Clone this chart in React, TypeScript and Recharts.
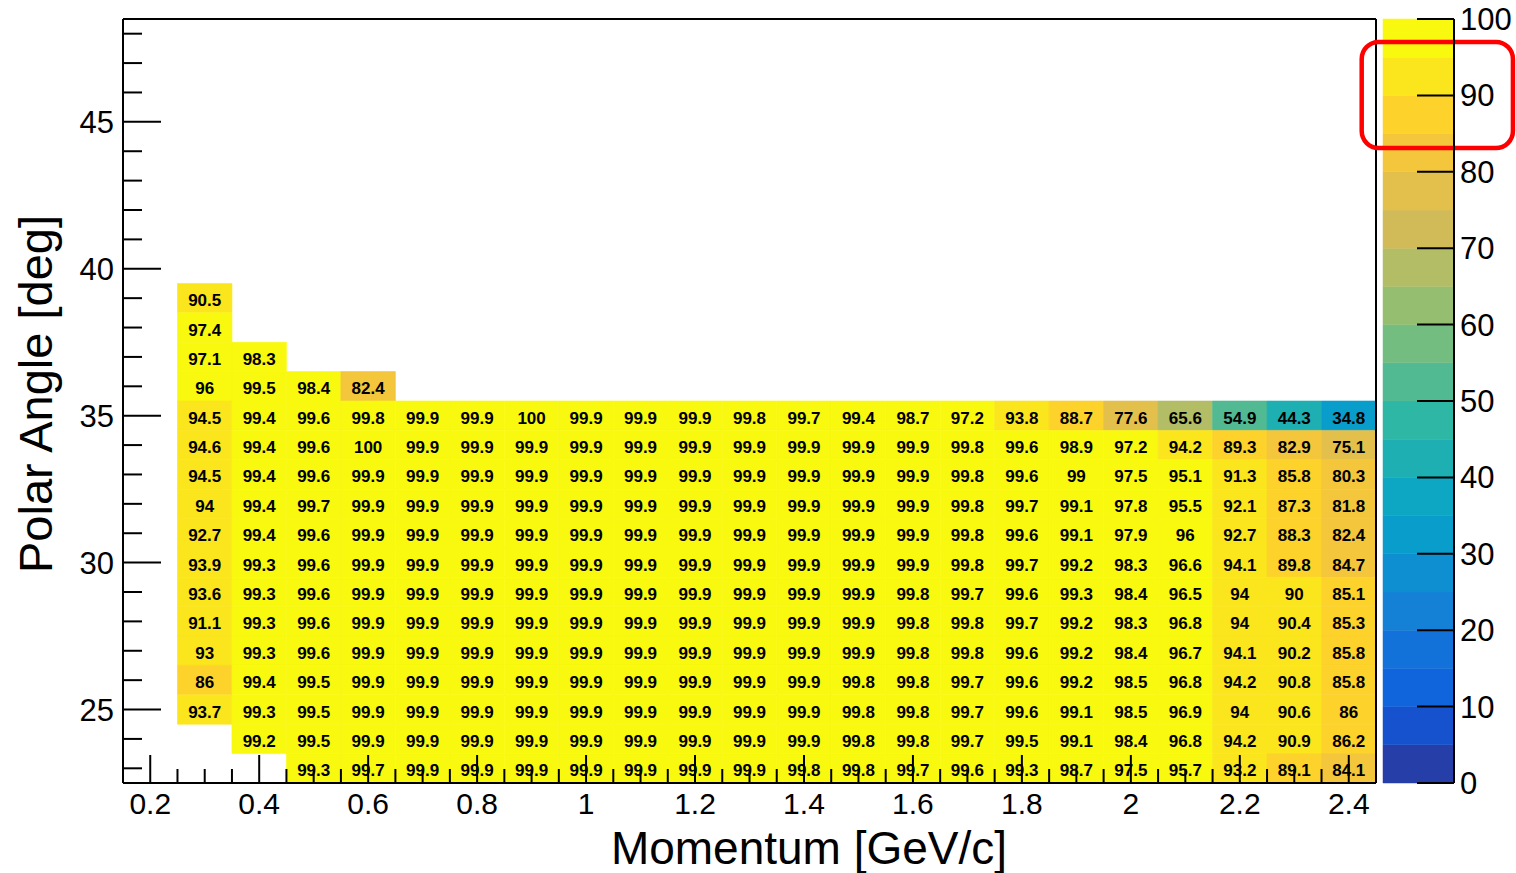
import React from 'react';
import { ScatterChart, Scatter, XAxis, YAxis, ReferenceArea, ReferenceLine } from 'recharts';

// Momentum bin centres [GeV/c]
const momentum = [0.3, 0.4, 0.5, 0.6, 0.7, 0.8, 0.9, 1.0, 1.1, 1.2, 1.3, 1.4, 1.5, 1.6, 1.7, 1.8, 1.9, 2.0, 2.1, 2.2, 2.3, 2.4];

// Efficiency [%] for each polar-angle bin, indexed by momentum bin (null = empty bin)
const theta39 = [90.5];
const theta38 = [97.4];
const theta37 = [97.1, 98.3];
const theta36 = [96, 99.5, 98.4, 82.4];
const theta35 = [94.5, 99.4, 99.6, 99.8, 99.9, 99.9, 100, 99.9, 99.9, 99.9, 99.8, 99.7, 99.4, 98.7, 97.2, 93.8, 88.7, 77.6, 65.6, 54.9, 44.3, 34.8];
const theta34 = [94.6, 99.4, 99.6, 100, 99.9, 99.9, 99.9, 99.9, 99.9, 99.9, 99.9, 99.9, 99.9, 99.9, 99.8, 99.6, 98.9, 97.2, 94.2, 89.3, 82.9, 75.1];
const theta33 = [94.5, 99.4, 99.6, 99.9, 99.9, 99.9, 99.9, 99.9, 99.9, 99.9, 99.9, 99.9, 99.9, 99.9, 99.8, 99.6, 99, 97.5, 95.1, 91.3, 85.8, 80.3];
const theta32 = [94, 99.4, 99.7, 99.9, 99.9, 99.9, 99.9, 99.9, 99.9, 99.9, 99.9, 99.9, 99.9, 99.9, 99.8, 99.7, 99.1, 97.8, 95.5, 92.1, 87.3, 81.8];
const theta31 = [92.7, 99.4, 99.6, 99.9, 99.9, 99.9, 99.9, 99.9, 99.9, 99.9, 99.9, 99.9, 99.9, 99.9, 99.8, 99.6, 99.1, 97.9, 96, 92.7, 88.3, 82.4];
const theta30 = [93.9, 99.3, 99.6, 99.9, 99.9, 99.9, 99.9, 99.9, 99.9, 99.9, 99.9, 99.9, 99.9, 99.9, 99.8, 99.7, 99.2, 98.3, 96.6, 94.1, 89.8, 84.7];
const theta29 = [93.6, 99.3, 99.6, 99.9, 99.9, 99.9, 99.9, 99.9, 99.9, 99.9, 99.9, 99.9, 99.9, 99.8, 99.7, 99.6, 99.3, 98.4, 96.5, 94, 90, 85.1];
const theta28 = [91.1, 99.3, 99.6, 99.9, 99.9, 99.9, 99.9, 99.9, 99.9, 99.9, 99.9, 99.9, 99.9, 99.8, 99.8, 99.7, 99.2, 98.3, 96.8, 94, 90.4, 85.3];
const theta27 = [93, 99.3, 99.6, 99.9, 99.9, 99.9, 99.9, 99.9, 99.9, 99.9, 99.9, 99.9, 99.9, 99.8, 99.8, 99.6, 99.2, 98.4, 96.7, 94.1, 90.2, 85.8];
const theta26 = [86, 99.4, 99.5, 99.9, 99.9, 99.9, 99.9, 99.9, 99.9, 99.9, 99.9, 99.9, 99.8, 99.8, 99.7, 99.6, 99.2, 98.5, 96.8, 94.2, 90.8, 85.8];
const theta25 = [93.7, 99.3, 99.5, 99.9, 99.9, 99.9, 99.9, 99.9, 99.9, 99.9, 99.9, 99.9, 99.8, 99.8, 99.7, 99.6, 99.1, 98.5, 96.9, 94, 90.6, 86];
const theta24 = [null, 99.2, 99.5, 99.9, 99.9, 99.9, 99.9, 99.9, 99.9, 99.9, 99.9, 99.9, 99.8, 99.8, 99.7, 99.5, 99.1, 98.4, 96.8, 94.2, 90.9, 86.2];
const theta23 = [null, null, 99.3, 99.7, 99.9, 99.9, 99.9, 99.9, 99.9, 99.9, 99.9, 99.8, 99.8, 99.7, 99.6, 99.3, 98.7, 97.5, 95.7, 93.2, 89.1, 84.1];

// Polar-angle bin centres [deg] with their rows
const angleRows: [number, (number | null)[]][] = [
  [39, theta39], [38, theta38], [37, theta37], [36, theta36], [35, theta35],
  [34, theta34], [33, theta33], [32, theta32], [31, theta31], [30, theta30],
  [29, theta29], [28, theta28], [27, theta27], [26, theta26], [25, theta25],
  [24, theta24], [23, theta23],
];

// Axis ticks
const xMajorTicks = [0.2, 0.4, 0.6, 0.8, 1, 1.2, 1.4, 1.6, 1.8, 2, 2.2, 2.4];
const yMajorTicks = [25, 30, 35, 40, 45];
const zTicks = [0, 10, 20, 30, 40, 50, 60, 70, 80, 90, 100];

// Histogram binning / ranges
const P_BIN = 0.1;
const THETA_BIN = 1;
const X_DOMAIN: [number, number] = [0.15, 2.45];
const Y_DOMAIN: [number, number] = [22.5, 48.5];
const Z_MIN = 0;
const Z_MAX = 100;
const N_CONTOURS = 20;

// "Bird" palette (255 colours, gradient through these stops)
const birdStops = [0.0, 0.125, 0.25, 0.375, 0.5, 0.625, 0.75, 0.875, 1.0];
const birdR = [0.2082, 0.0592, 0.078, 0.0232, 0.1802, 0.5301, 0.8186, 0.9956, 0.9764];
const birdG = [0.1664, 0.3599, 0.5041, 0.6419, 0.7178, 0.7492, 0.7328, 0.7862, 0.9832];
const birdB = [0.5293, 0.8684, 0.8385, 0.7914, 0.6425, 0.4662, 0.3499, 0.1968, 0.0539];
const N_COLORS = 255;

function paletteColor(idx: number): string {
  for (let g = 1; g < birdStops.length; g++) {
    const i0 = Math.floor(N_COLORS * birdStops[g - 1]);
    const i1 = Math.floor(N_COLORS * birdStops[g]);
    if (idx < i1 || g === birdStops.length - 1) {
      const t = (idx - i0) / (i1 - i0);
      const c = (a: number[]) => Math.round(255 * (a[g - 1] + (a[g] - a[g - 1]) * t));
      return `rgb(${c(birdR)},${c(birdG)},${c(birdB)})`;
    }
  }
  return '#000';
}

const bandOf = (z: number) =>
  Math.min(N_CONTOURS - 1, Math.floor(0.01 + ((z - Z_MIN) * N_CONTOURS) / (Z_MAX - Z_MIN)));
const bandColor = (k: number) => paletteColor(Math.floor(((k + 0.99) * N_COLORS) / N_CONTOURS));

type Cell = { p: number; a: number; v: number };
const cells: Cell[] = [];
angleRows.forEach(([a, row]) => {
  row.forEach((v, i) => {
    if (v !== null && v !== undefined) cells.push({ p: momentum[i], a, v });
  });
});

const round = (v: number) => Math.round(v * 1000) / 1000;
const xTicks: number[] = [];
for (let t = X_DOMAIN[0]; t <= X_DOMAIN[1] + 1e-9; t += 0.05) xTicks.push(round(t));
const yTicks: number[] = [];
for (let t = 23; t <= 48; t += 1) yTicks.push(t);

const zBands = Array.from({ length: N_CONTOURS }, (_, k) => ({
  lo: Z_MIN + (k * (Z_MAX - Z_MIN)) / N_CONTOURS,
  hi: Z_MIN + ((k + 1) * (Z_MAX - Z_MIN)) / N_CONTOURS,
  k,
}));

// highlighted stretch of the colour scale
const highlightZ: [number, number] = [83.1, 97.0];

const FONT = '"Liberation Sans", Arial, Helvetica, sans-serif';

const fmt = (v: number) => String(round(v));

function MomentumTick(props: any) {
  const { x, y, payload } = props;
  const v = payload.value;
  const major = xMajorTicks.some((m) => Math.abs(m - v) < 1e-6);
  return (
    <g>
      <line x1={x} y1={y} x2={x} y2={y - (major ? 28 : 14)} stroke="#000" strokeWidth={2} />
      {major && (
        <text x={x} y={y + 31} textAnchor="middle" fontSize={30} fontFamily={FONT} fill="#000">
          {fmt(v)}
        </text>
      )}
    </g>
  );
}

function AngleTick(props: any) {
  const { x, y, payload } = props;
  const v = payload.value;
  const major = yMajorTicks.includes(v);
  return (
    <g>
      <line x1={x} y1={y} x2={x + (major ? 38 : 19)} y2={y} stroke="#000" strokeWidth={2} />
      {major && (
        <text x={x - 9} y={y + 11} textAnchor="end" fontSize={31} fontFamily={FONT} fill="#000">
          {fmt(v)}
        </text>
      )}
    </g>
  );
}

function ZTick(props: any) {
  const { x, y, payload } = props;
  return (
    <g>
      <line x1={x} y1={y} x2={x - 37} y2={y} stroke="#000" strokeWidth={2} />
      <text x={x + 6} y={y + 11} textAnchor="start" fontSize={31} fontFamily={FONT} fill="#000">
        {fmt(payload.value)}
      </text>
    </g>
  );
}

function CellLabel(props: any) {
  const { cx, cy } = props;
  const v = props.payload ? props.payload.v : props.v;
  if (cx == null || cy == null) return null;
  return (
    <text
      x={cx}
      y={cy + 8}
      textAnchor="middle"
      fontSize={17}
      fontWeight="bold"
      fontFamily={FONT}
      fill="#000"
    >
      {fmt(v)}
    </text>
  );
}

function HighlightBox(props: any) {
  const { x, y, width, height } = props;
  return (
    <rect x={x} y={y} width={width} height={height} rx={17} ry={17} fill="none" stroke="#f00" strokeWidth={4.5} />
  );
}

export default function App() {
  return (
    <div style={{ position: 'absolute', left: 0, top: 0, width: 1516, height: 873, background: '#fff' }}>
      <div style={{ position: 'absolute', left: 0, top: 0 }}>
        <ScatterChart width={1516} height={873} margin={{ top: 19, right: 140, bottom: 0, left: 0 }}>
          <XAxis
            type="number"
            dataKey="p"
            domain={X_DOMAIN}
            ticks={xTicks}
            interval={0}
            height={90}
            tickSize={0}
            tickMargin={0}
            tickLine={false}
            tick={<MomentumTick />}
            axisLine={{ stroke: '#000', strokeWidth: 2 }}
            allowDataOverflow
            label={{
              value: 'Momentum [GeV/c]',
              content: () => (
                <text x={809} y={864} textAnchor="middle" fontSize={46} fontFamily={FONT} fill="#000">
                  Momentum [GeV/c]
                </text>
              ),
            }}
          />
          <YAxis
            type="number"
            dataKey="a"
            domain={Y_DOMAIN}
            ticks={yTicks}
            interval={0}
            width={123}
            tickSize={0}
            tickMargin={0}
            tickLine={false}
            tick={<AngleTick />}
            axisLine={{ stroke: '#000', strokeWidth: 2 }}
            allowDataOverflow
            label={{
              value: 'Polar Angle [deg]',
              content: () => (
                <text
                  x={52}
                  y={394}
                  transform="rotate(-90, 52, 394)"
                  textAnchor="middle"
                  fontSize={47}
                  fontFamily={FONT}
                  fill="#000"
                >
                  Polar Angle [deg]
                </text>
              ),
            }}
          />
          {cells.map((c) => {
            const col = bandColor(bandOf(c.v));
            return (
              <ReferenceArea
                key={`${c.p}-${c.a}`}
                x1={c.p - P_BIN / 2}
                x2={c.p + P_BIN / 2}
                y1={c.a - THETA_BIN / 2}
                y2={c.a + THETA_BIN / 2}
                fill={col}
                fillOpacity={1}
                stroke={col}
                strokeWidth={0.6}
              />
            );
          })}
          <ReferenceLine y={Y_DOMAIN[1]} stroke="#000" strokeWidth={2} />
          <ReferenceLine x={X_DOMAIN[1]} stroke="#000" strokeWidth={2} />
          <Scatter data={cells} dataKey="a" isAnimationActive={false} shape={CellLabel} />
        </ScatterChart>
      </div>
      <div style={{ position: 'absolute', left: 0, top: 0, pointerEvents: 'none' }}>
        <ScatterChart width={1516} height={873} margin={{ top: 19, right: 0, bottom: 90, left: 1383 }}>
          <XAxis type="number" dataKey="x" domain={[0, 1]} hide allowDataOverflow />
          <YAxis
            type="number"
            dataKey="z"
            orientation="right"
            domain={[Z_MIN, Z_MAX]}
            ticks={zTicks}
            interval={0}
            width={62}
            tickSize={0}
            tickMargin={0}
            tickLine={false}
            tick={<ZTick />}
            axisLine={{ stroke: '#000', strokeWidth: 2 }}
            allowDataOverflow
          />
          {zBands.map((b) => (
            <ReferenceArea
              key={b.k}
              x1={0}
              x2={1}
              y1={b.lo}
              y2={b.hi}
              fill={bandColor(b.k)}
              fillOpacity={1}
              stroke={bandColor(b.k)}
              strokeWidth={0.5}
            />
          ))}
          <ReferenceArea
            x1={-0.3}
            x2={1.83}
            y1={highlightZ[0]}
            y2={highlightZ[1]}
            ifOverflow="visible"
            shape={<HighlightBox />}
          />
        </ScatterChart>
      </div>
    </div>
  );
}
